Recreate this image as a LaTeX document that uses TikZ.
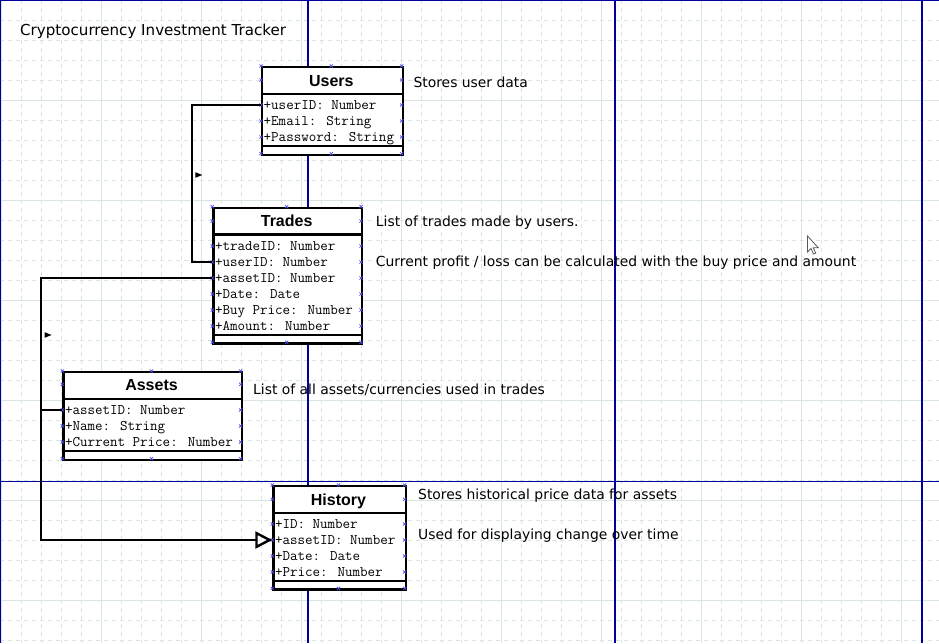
\documentclass[tikz,border=0pt]{standalone}
\usepackage{fontspec}
\setmainfont{DejaVu Sans}
\newfontfamily\clsfont{Liberation Sans}
\usetikzlibrary{arrows.meta}
\definecolor{gridc}{HTML}{DAE4E1}
\definecolor{pagec}{HTML}{00009C}
\definecolor{cpcol}{HTML}{4F4FEF}
\tikzset{
  clsbox/.style={draw, line width=2.4pt, fill=white, inner sep=0pt, anchor=north west},
  sepline/.style={line width=2.4pt},
  ctitle/.style={anchor=base, inner sep=0pt, font=\clsfont\bfseries\fontsize{16}{16}\selectfont},
  attr/.style={anchor=base west, inner sep=0pt, font=\ttfamily\fontsize{14.6}{14.6}\selectfont},
  note/.style={anchor=base west, inner sep=0pt, font=\fontsize{13.9}{13.9}\selectfont},
  conn/.style={line width=2.4pt},
  minorgrid/.style={gridc, line width=0.9pt, dash pattern=on 4pt off 4pt},
  majorgrid/.style={gridc, line width=1pt},
  pageline/.style={pagec, line width=1.2pt},
  cp/.pic={\draw[cpcol, line width=0.7pt] (-1.6,-1.6) -- (1.6,1.6) (-1.6,1.6) -- (1.6,-1.6);},
  dirmark/.pic={\fill (-3.2,-2.8) -- (3.8,0) -- (-3.2,2.8) -- cycle;}
}
\begin{document}
\begin{tikzpicture}[x=1pt,y=-1pt]
\fill[white] (0,0) rectangle (939,643);
\useasboundingbox (0,0) rectangle (939,643);
% grid
\foreach \k in {0,...,46} {\draw[minorgrid] ({1.7+20*\k},0) -- ({1.7+20*\k},643);}
\foreach \k in {1,...,32} {\draw[minorgrid] (0,{20*\k}) -- (939,{20*\k});}
\foreach \k in {0,...,9} {\draw[majorgrid] ({1.7+100*\k},0) -- ({1.7+100*\k},643);}
\foreach \k in {1,...,6} {\draw[majorgrid] (0,{100*\k}) -- (939,{100*\k});}
% page break lines
\draw[pageline] (0.6,0) -- (0.6,643);
\draw[pageline] (0,0.6) -- (939,0.6);
\draw[pageline] (308,0) -- (308,643);
\draw[pageline] (615,0) -- (615,643);
\draw[pageline] (922,0) -- (922,643);
\draw[pageline] (0,481.5) -- (939,481.5);

% diagram title
\node[note, font=\fontsize{15.1}{15.1}\selectfont] (title) at (20,35) {Cryptocurrency Investment Tracker};

% ---- Users
\node[clsbox, minimum width=140.7pt, minimum height=87.7pt] (users) at (261,66) {};
\draw[sepline] (261,93.7) -- (401.7,93.7);
\draw[sepline] (261,146) -- (401.7,146);
\node[ctitle] (users-t) at (331.35,86) {Users};
\node[attr] (users-a1) at (263.5,109) {+userID: Number};
\node[attr] (users-a2) at (263.5,125) {+Email: String};
\node[attr] (users-a3) at (263.5,141) {+Password: String};
\coordinate (u-uid) at (261,105);

% ---- Trades
\node[clsbox, minimum width=148.7pt, minimum height=135.6pt] (trades) at (212.3,206.7) {};
\draw[sepline] (212.3,234.3) -- (361,234.3);
\draw[sepline] (212.3,334.7) -- (361,334.7);
\node[ctitle] (trades-t) at (286.65,226.7) {Trades};
\node[attr] (trades-a1) at (214.8,250) {+tradeID: Number};
\node[attr] (trades-a2) at (214.8,266) {+userID: Number};
\node[attr] (trades-a3) at (214.8,282) {+assetID: Number};
\node[attr] (trades-a4) at (214.8,298) {+Date: Date};
\node[attr] (trades-a5) at (214.8,314) {+Buy Price: Number};
\node[attr] (trades-a6) at (214.8,330) {+Amount: Number};
\coordinate (t-uid) at (212.3,262);
\coordinate (t-aid) at (212.3,278);

% ---- Assets
\node[clsbox, minimum width=178.4pt, minimum height=87.7pt] (assets) at (62.3,371) {};
\draw[sepline] (62.3,398.7) -- (240.7,398.7);
\draw[sepline] (62.3,450.7) -- (240.7,450.7);
\node[ctitle] (assets-t) at (151.5,390.3) {Assets};
\node[attr] (assets-a1) at (64.8,414) {+assetID: Number};
\node[attr] (assets-a2) at (64.8,430) {+Name: String};
\node[attr] (assets-a3) at (64.8,446) {+Current Price: Number};
\coordinate (a-aid) at (62.3,410);

% ---- History
\node[clsbox, minimum width=132.4pt, minimum height=103.3pt] (history) at (272.3,485) {};
\draw[sepline] (272.3,513) -- (404.7,513);
\draw[sepline] (272.3,580.7) -- (404.7,580.7);
\node[ctitle] (history-t) at (338.5,505.3) {History};
\node[attr] (history-a1) at (274.8,528) {+ID: Number};
\node[attr] (history-a2) at (274.8,544) {+assetID: Number};
\node[attr] (history-a3) at (274.8,560) {+Date: Date};
\node[attr] (history-a4) at (274.8,576) {+Price: Number};
\coordinate (h-aid) at (272.3,540);

% connection point crosses
\foreach \x in {261,331.35,401.7} {\pic at (\x,66) {cp}; \pic at (\x,153.7) {cp};}
\foreach \y in {80,105,121,137} {\pic at (261,\y) {cp}; \pic at (401.7,\y) {cp};}
\foreach \x in {212.3,286.65,361} {\pic at (\x,206.7) {cp}; \pic at (\x,342.3) {cp};}
\foreach \y in {221,246,262,278,294,310,326} {\pic at (212.3,\y) {cp}; \pic at (361,\y) {cp};}
\foreach \x in {62.3,151.5,240.7} {\pic at (\x,371) {cp}; \pic at (\x,458.7) {cp};}
\foreach \y in {384.3,410,426,442} {\pic at (62.3,\y) {cp}; \pic at (240.7,\y) {cp};}
\foreach \x in {272.3,338.5,404.7} {\pic at (\x,485) {cp}; \pic at (\x,588.3) {cp};}
\foreach \y in {499.3,524,540,556,572} {\pic at (272.3,\y) {cp}; \pic at (404.7,\y) {cp};}

% connectors
\draw[conn] (u-uid) -- ++(-69.3,0) |- (t-uid);
\pic at (198.5,175) {dirmark};
\draw[conn] (t-aid) -- ++(-171.6,0) |- (a-aid);
\pic at (47.8,335) {dirmark};
\draw[conn, -{Triangle[open, length=17pt, width=17pt]}] (a-aid) -- ++(-21.6,0) |- (h-aid);

% notes
\node[note] (n-users) at (413.3,87.5) {Stores user data};
\node[note] (n-trades1) at (375.7,226.7) {List of trades made by users.};
\node[note] (n-trades2) at (375.7,266.7) {Current profit / loss can be calculated with the buy price and amount};
\node[note] (n-assets) at (253,394.5) {List of all assets/currencies used in trades};
\node[note] (n-hist1) at (418,499.5) {Stores historical price data for assets};
\node[note] (n-hist2) at (418,539.5) {Used for displaying change over time};

% mouse cursor
\draw[black!65, fill=white, line width=0.8pt, line join=miter]
  (807.5,236) -- ++(0,16) -- ++(3.5,-3.5) -- ++(2.5,5.5) -- ++(2.2,-1)
  -- ++(-2.5,-5.3) -- ++(5,0) -- cycle;
\end{tikzpicture}
\end{document}
